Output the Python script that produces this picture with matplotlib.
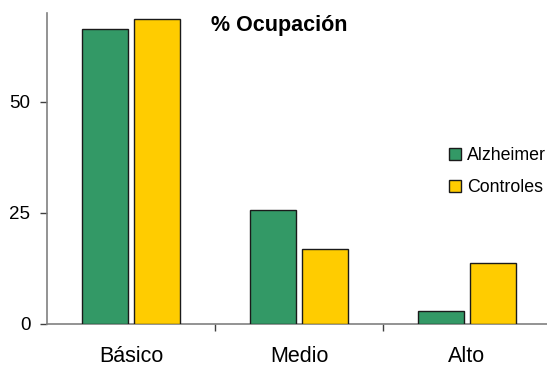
import matplotlib
matplotlib.use("Agg")
import matplotlib.pyplot as plt
import numpy as np
from matplotlib.patches import Patch

plt.rcParams['font.family'] = ['Liberation Sans', 'DejaVu Sans']

categories = ["Básico", "Medio", "Alto"]
alzheimer = [66.4, 25.7, 2.9]
controles = [68.6, 16.9, 13.8]
series_names = ["Alzheimer", "Controles"]
title = "% Ocupación"
yticks = [0, 25, 50]

green = "#339966"
yellow = "#FFCC00"

W, H = 547, 372
fig = plt.figure(figsize=(W / 100, H / 100), dpi=100)
ax = fig.add_axes([47 / W, 48 / H, 504 / W, 311 / H])

x = np.arange(len(categories))
bw = 0.274
off = 0.155
ax.bar(x - off, alzheimer, bw, color=green, edgecolor="#1a1a1a", linewidth=1.0, zorder=3)
ax.bar(x + off, controles, bw, color=yellow, edgecolor="#1a1a1a", linewidth=1.0, zorder=3)

ax.set_xlim(-0.5, 2.5)
ax.set_ylim(0, 70)

for s in ["top", "right"]:
    ax.spines[s].set_visible(False)
for s in ["left", "bottom"]:
    ax.spines[s].set_color("#808080")
    ax.spines[s].set_linewidth(1.2)

ax.set_yticks(yticks)
ax.set_yticklabels([str(v) for v in yticks], fontsize=13.5)
ax.tick_params(axis="y", length=5, width=1, color="#404040", pad=7)

# category labels centred, tick marks between categories
ax.set_xticks([0.5, 1.5])
ax.set_xticklabels([])
ax.tick_params(axis="x", length=5, width=1, color="#404040", direction="out")
ax.set_xticks(x, minor=True)
ax.set_xticklabels(categories, minor=True, fontsize=15.5)
ax.tick_params(axis="x", which="minor", length=0, pad=16)

fig.text(279 / W, 1 - 26 / H, title, fontsize=15.5, fontweight="bold",
         ha="center", va="center")

handles = [Patch(facecolor=green, edgecolor="#1a1a1a", linewidth=1.0),
           Patch(facecolor=yellow, edgecolor="#1a1a1a", linewidth=1.0)]
ax.legend(handles, series_names, loc="upper left",
          bbox_to_anchor=(449 / W, 1 - 147 / H), bbox_transform=fig.transFigure,
          frameon=False, fontsize=12.8, handlelength=0.7, handleheight=0.7,
          handletextpad=0.3, labelspacing=0.85, borderaxespad=0, borderpad=0)

fig.savefig("out.png", dpi=100)
